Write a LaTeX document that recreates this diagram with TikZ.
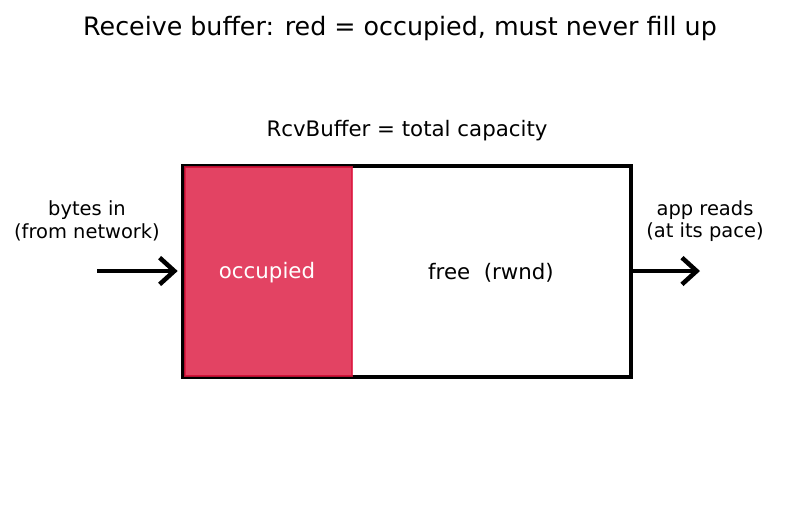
\documentclass[tikz,border=0pt]{standalone}
\usepackage{fontspec}
\setmainfont{DejaVu Sans}
\usetikzlibrary{arrows.meta}
\definecolor{occred}{HTML}{DC143C}

\begin{document}
\begin{tikzpicture}[x=0.75pt,y=-0.75pt,
    lbl/.style={font=\fontsize{14.6}{17}\selectfont, align=center},
    flow/.style={line width=3.4pt, -{Straight Barb[length=11pt,width=20pt,line width=3.4pt]}}]
    \useasboundingbox (0,0) rectangle (793,512);

    \node (title) at (400,29) {\fontsize{19}{22}\selectfont Receive buffer: red = occupied, must never fill up};
    \node[lbl, font=\fontsize{16}{19}\selectfont] (cap) at (407,131) {RcvBuffer = total capacity};

    % buffer frame and occupied part
    \draw[line width=3.4pt] (183,166) rectangle (631,377);
    \path[fill=occred, fill opacity=0.8, draw=occred, draw opacity=0.8, line width=1pt] (185,167) rectangle (352,376);
    \coordinate (bl) at (183,271);
    \coordinate (br) at (631,271);

    \node[lbl, text=white, font=\fontsize{16}{19}\selectfont] (occ) at (267,273) {occupied};
    \node[lbl, font=\fontsize{16}{19}\selectfont] (free) at (491,273) {free\ \ (rwnd)};

    \node[lbl] (in) at (87,221) {bytes in\\(from network)};
    \node[lbl] (out) at (705,221) {app reads\\(at its pace)};

    \coordinate (src) at (97,271);
    \coordinate (dst) at (700,271);
    \draw[flow] (src) -- ([xshift=-4]bl);
    \draw[flow] (br) -- (dst);
 \end{tikzpicture}
\end{document}
